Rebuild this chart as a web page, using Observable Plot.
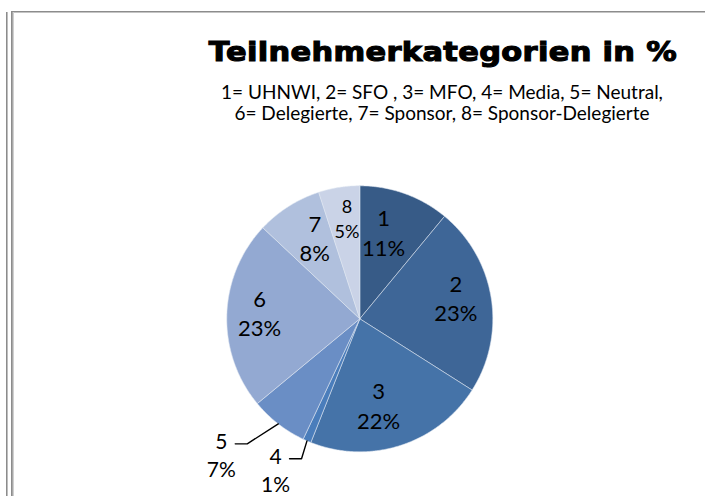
<!DOCTYPE html>
<html><head><meta charset="utf-8">
<script src="https://cdn.jsdelivr.net/npm/d3@7"></script>
<script src="https://cdn.jsdelivr.net/npm/@observablehq/plot@0.6"></script>
<style>
body{margin:0;background:#fff;}
#wrap{position:relative;width:705px;height:496px;overflow:hidden;background:#fff;}
#header{position:relative;height:130px;}
.t{position:absolute;white-space:nowrap;transform:translateX(-50%);line-height:1;color:#000;}
#title{left:443px;top:39px;font-family:"DejaVu Sans",sans-serif;font-weight:bold;font-size:26px;-webkit-text-stroke:1.1px #000;letter-spacing:0.3px;transform:translateX(-50%) scaleX(1.17);}
.sub{left:442px;font-family:Lato,"Open Sans",sans-serif;font-size:19px;}
#sub1{top:82px;}
#sub2{top:103px;}
.ln{position:absolute;}
</style></head><body>
<div id="wrap">
  <div id="header">
    <div id="title" class="t">Teilnehmerkategorien in %</div>
    <div id="sub1" class="t sub">1= UHNWI, 2= SFO , 3= MFO, 4= Media, 5= Neutral,</div>
    <div id="sub2" class="t sub">6= Delegierte, 7= Sponsor, 8= Sponsor-Delegierte</div>
  </div>
  <div id="chart"></div>
  <div class="ln" style="left:6px;top:12px;width:1px;height:484px;background:#8c8c8c"></div>
  <div class="ln" style="left:7px;top:12px;width:1px;height:484px;background:#bdbdbd"></div>
  <div class="ln" style="left:11px;top:11px;width:694px;height:1px;background:#8c8c8c"></div>
  <div class="ln" style="left:12px;top:12px;width:693px;height:1px;background:#c4c4c4"></div>
  <div class="ln" style="left:11px;top:11px;width:1px;height:485px;background:#8c8c8c"></div>
  <div class="ln" style="left:12px;top:12px;width:1px;height:484px;background:#a8a8a8"></div>
  <div class="ln" style="left:13px;top:12px;width:1px;height:484px;background:#d0d0d0"></div>
</div>
<script>
// ---- data ----
const categories = ["1","2","3","4","5","6","7","8"];
const values = [11, 23, 22, 1, 7, 23, 8, 5];
const percentLabels = ["11%","23%","22%","1%","7%","23%","8%","5%"];
// ---- styling / label layout ----
const palette = ["#375b87","#3e6697","#4573a8","#4a7dbb","#6a8ec5","#93a9d2","#b0c0dd","#cad3e7"];
const insideLayout = {"1": {r: 0.68, turn: -4.6}, "2": {r: 0.74, turn: -3.8}, "3": {r: 0.66, turn: 5.6},
                      "6": {r: 0.755, turn: 2.1}, "7": {r: 0.70, turn: 3.5}, "8": {r: 0.77, turn: 1.8}};
const outsideLeaders = {"4": {r: 1.14, turn: -0.8}, "5": {r: 1.265, turn: 4.2}};
const smallLabels = ["8"];

const data = categories.map((c, i) => ({cat: c, value: values[i], pct: percentLabels[i]}));
const arcs = d3.pie().sort(null).value(d => d.value)(data);

const polar = (a, r) => ({x: r * Math.sin(a), y: r * Math.cos(a)});
const deg = Math.PI / 180;
const slicePts = [];
arcs.forEach(a => {
  const c = a.data.cat;
  slicePts.push({cat: c, ...polar(0, 0)});
  const n = Math.max(2, Math.ceil((a.endAngle - a.startAngle) / (Math.PI / 360)));
  for (let k = 0; k <= n; k++) {
    const ang = a.startAngle + (a.endAngle - a.startAngle) * k / n;
    slicePts.push({cat: c, ...polar(ang, 1)});
  }
  slicePts.push({cat: c, ...polar(0, 0)});
});

const mid = a => (a.startAngle + a.endAngle) / 2;
const inside = arcs.filter(a => insideLayout[a.data.cat]).map(a => {
  const L = insideLayout[a.data.cat];
  return {cat: a.data.cat, label: a.data.cat + "\n" + a.data.pct, ...polar(mid(a) + L.turn * deg, L.r)};
});
const leaderPts = [];
const outsideText = [];
arcs.filter(a => outsideLeaders[a.data.cat]).forEach(a => {
  const o = outsideLeaders[a.data.cat];
  const e = polar(mid(a), 1);
  const el = polar(mid(a) + o.turn * deg, o.r);
  const tail = {x: el.x - 12 / 133, y: el.y};
  leaderPts.push({cat: a.data.cat, ...e}, {cat: a.data.cat, ...el}, {cat: a.data.cat, ...tail});
  outsideText.push({cat: a.data.cat, label: a.data.cat + "\n" + a.data.pct, ...tail});
});

const font = "Lato, 'Open Sans', sans-serif";
const chart = Plot.plot({
  width: 705,
  height: 366,
  marginLeft: 226.3,
  marginRight: 212.7,
  marginTop: 55.3,
  marginBottom: 44.7,
  x: {domain: [-1, 1], axis: null},
  y: {domain: [-1, 1], axis: null},
  color: {domain: categories, range: palette},
  style: {fontFamily: font, background: "transparent"},
  marks: [
    Plot.line(slicePts, {x: "x", y: "y", z: "cat", fill: "cat", stroke: "#dfe6f1", strokeWidth: 0.7, strokeOpacity: 0.8, curve: "linear"}),
    Plot.line(leaderPts, {x: "x", y: "y", z: "cat", stroke: "#000", strokeWidth: 1.4, curve: "linear"}),
    Plot.text(inside.filter(d => !smallLabels.includes(d.cat)), {x: "x", y: "y", text: "label", fontSize: 22, lineHeight: 1.33, fill: "#000", textAnchor: "middle", lineAnchor: "middle"}),
    Plot.text(inside.filter(d => smallLabels.includes(d.cat)), {x: "x", y: "y", text: "label", fontSize: 18, lineHeight: 1.4, fill: "#000", textAnchor: "middle", lineAnchor: "middle"}),
    Plot.text(outsideText, {x: "x", y: "y", text: "label", fontSize: 21, lineHeight: 1.36, fill: "#000", textAnchor: "middle", lineAnchor: "middle", dx: -14, dy: 10})
  ]
});
document.getElementById("chart").appendChild(chart);
</script>
</body></html>
